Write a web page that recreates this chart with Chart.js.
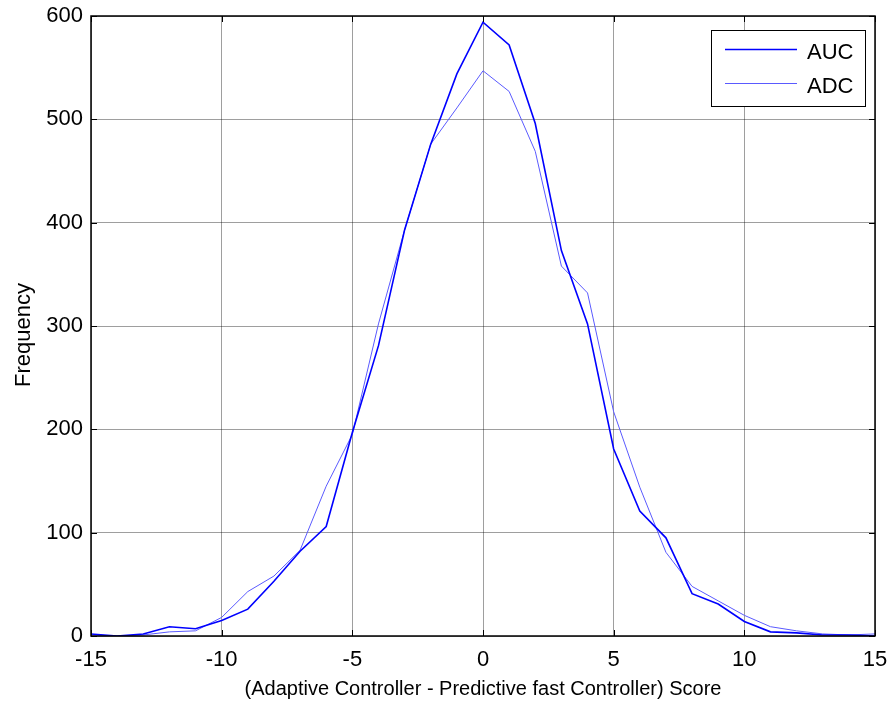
<!DOCTYPE html>
<html lang="en">
<head>
    <meta charset="UTF-8">
    <title>AUC vs ADC score distribution</title>
    <style>
        html, body { margin: 0; padding: 0; background: #fff; }
        #wrap { width: 890px; height: 706px; }
    </style>
</head>
<body>
    <div id="wrap"><canvas id="myChart" width="890" height="706"></canvas></div>

    <script src="https://cdn.jsdelivr.net/npm/chart.js"></script>
    <script>
        // score bins (-15 .. 15)
        const scores = [-15, -14, -13, -12, -11, -10, -9, -8, -7, -6, -5, -4, -3, -2, -1, 0,
            1, 2, 3, 4, 5, 6, 7, 8, 9, 10, 11, 12, 13, 14, 15];
        const aucFreq = [2, 0, 2, 9, 7, 15, 26, 53, 82, 106, 197, 281, 393, 476, 544, 594,
            572, 496, 373, 302, 181, 121, 95, 41, 31, 14, 4, 3, 1, 1, 0];
        const adcFreq = [1, 0, 1, 4, 5, 18, 43, 58, 83, 145, 195, 302, 393, 476, 511, 547,
            527, 469, 358, 332, 217, 144, 81, 48, 34, 20, 9, 5, 2, 1, 2];
        const xTicks = [-15, -10, -5, 0, 5, 10, 15];
        const yTicks = [0, 100, 200, 300, 400, 500, 600];
        const xTitle = '(Adaptive Controller - Predictive fast Controller) Score';
        const yTitle = 'Frequency';

        const font = 'Arial, "Liberation Sans", sans-serif';

        // MATLAB style box with inward ticks, axis titles and legend
        const boxPlugin = {
            id: 'box',
            afterDraw(chart) {
                const { ctx, chartArea: a, scales } = chart;
                ctx.save();
                ctx.strokeStyle = '#000';
                ctx.lineWidth = 1;
                xTicks.forEach(v => {
                    const px = Math.round(scales.x.getPixelForValue(v)) + 0.5;
                    ctx.beginPath();
                    ctx.moveTo(px, a.bottom); ctx.lineTo(px, a.bottom - 6);
                    ctx.moveTo(px, a.top); ctx.lineTo(px, a.top + 6);
                    ctx.stroke();
                });
                yTicks.forEach(v => {
                    const py = Math.round(scales.y.getPixelForValue(v)) + 0.5;
                    ctx.beginPath();
                    ctx.moveTo(a.left, py); ctx.lineTo(a.left + 6, py);
                    ctx.moveTo(a.right, py); ctx.lineTo(a.right - 6, py);
                    ctx.stroke();
                });
                ctx.lineWidth = 1.5;
                ctx.strokeRect(a.left, a.top, a.right - a.left, a.bottom - a.top);

                // axis titles
                ctx.fillStyle = '#000';
                ctx.textAlign = 'center';
                ctx.textBaseline = 'middle';
                ctx.font = '20px ' + font;
                ctx.fillText(xTitle, (a.left + a.right) / 2, 689);
                ctx.save();
                ctx.translate(24, 335);
                ctx.rotate(-Math.PI / 2);
                ctx.font = '22px ' + font;
                ctx.fillText(yTitle, 0, 0);
                ctx.restore();

                // legend
                const lx = 711, ly = 30, lw = 154, lh = 76;
                ctx.fillStyle = '#fff';
                ctx.fillRect(lx, ly, lw, lh);
                ctx.strokeStyle = '#000';
                ctx.lineWidth = 1;
                ctx.strokeRect(lx + 0.5, ly + 0.5, lw, lh);
                ctx.textAlign = 'left';
                chart.data.datasets.forEach((ds, i) => {
                    const y = ly + 19.5 + i * 34;
                    ctx.strokeStyle = ds.borderColor;
                    ctx.lineWidth = ds.borderWidth;
                    ctx.beginPath();
                    ctx.moveTo(lx + 14, y); ctx.lineTo(lx + 86, y);
                    ctx.stroke();
                    ctx.fillStyle = '#000';
                    ctx.font = '22px ' + font;
                    ctx.fillText(ds.label, lx + 96, y + 3);
                });
                ctx.restore();
            }
        };

        new Chart(document.getElementById('myChart'), {
            type: 'line',
            data: {
                datasets: [{
                    label: 'AUC',
                    data: scores.map((s, i) => ({ x: s, y: aucFreq[i] })),
                    borderColor: '#0000ff',
                    borderWidth: 1.6,
                    pointRadius: 0,
                    tension: 0
                }, {
                    label: 'ADC',
                    data: scores.map((s, i) => ({ x: s, y: adcFreq[i] })),
                    borderColor: '#5a5aff',
                    borderWidth: 1,
                    pointRadius: 0,
                    tension: 0
                }]
            },
            options: {
                responsive: false,
                animation: false,
                layout: { padding: { top: 16, right: 15, left: 0, bottom: 0 } },
                plugins: { legend: { display: false }, tooltip: { enabled: false } },
                scales: {
                    x: {
                        type: 'linear',
                        min: -15, max: 15,
                        afterBuildTicks: s => { s.ticks = xTicks.map(v => ({ value: v })); },
                        afterFit: s => { s.height = 70; s.paddingLeft = 0; s.paddingRight = 0; },
                        grid: { color: 'rgba(0,0,0,0.38)', drawTicks: false },
                        border: { display: false },
                        ticks: { color: '#000', font: { size: 22, family: font }, padding: 11, maxRotation: 0 }
                    },
                    y: {
                        min: 0, max: 600,
                        afterBuildTicks: s => { s.ticks = yTicks.map(v => ({ value: v })); },
                        afterFit: s => { s.width = 91; s.paddingTop = 0; s.paddingBottom = 0; },
                        grid: { color: 'rgba(0,0,0,0.38)', drawTicks: false },
                        border: { display: false },
                        ticks: { color: '#000', font: { size: 22, family: font }, padding: 8 }
                    }
                }
            },
            plugins: [boxPlugin]
        });
    </script>
</body>
</html>
